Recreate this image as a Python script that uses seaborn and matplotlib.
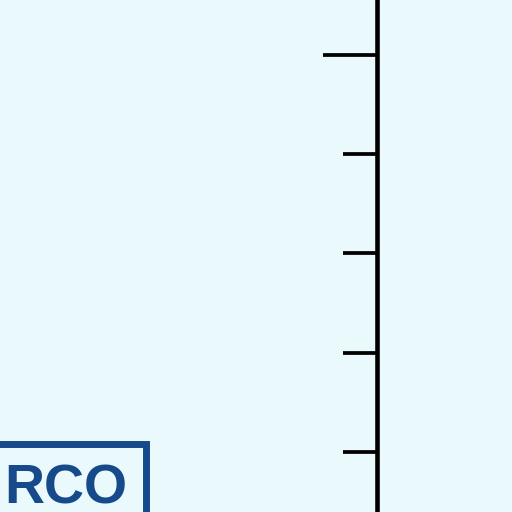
import numpy as np
import pandas as pd
import matplotlib
matplotlib.use("Agg")
import matplotlib.pyplot as plt
from matplotlib.patches import Rectangle
from matplotlib.ticker import FixedLocator, NullFormatter
import seaborn as sns

# axis scale (depth units)
major_ticks = [0]
minor_ticks = [1, 2, 3, 4]
axis_range = [-0.554, 4.605]
box_label = "RCO"

sns.set_theme(style="white")
plt.rcParams['font.family'] = ['Liberation Sans', 'DejaVu Sans']

bg = '#e9f9fc'
navy = '#174a8b'

fig = plt.figure(figsize=(5.12, 5.12), dpi=100, facecolor=bg)
ax = fig.add_axes([0, 0, 377 / 512, 1], facecolor=bg)

# axis line drawn from the range
line = pd.DataFrame({'x': [1.0, 1.0], 'y': axis_range})
sns.lineplot(data=line, x='x', y='y', ax=ax, color='black', lw=3.3,
             estimator=None, sort=False, clip_on=False)

ax.set_xlim(0, 1)
ax.set_ylim(axis_range[1], axis_range[0])
sns.despine(ax=ax, left=True, bottom=True, top=True, right=True)
ax.set_xlabel('')
ax.set_ylabel('')
ax.set_xticks([])

ax.yaxis.tick_right()
ax.yaxis.set_major_locator(FixedLocator(major_ticks))
ax.yaxis.set_minor_locator(FixedLocator(minor_ticks))
ax.yaxis.set_major_formatter(NullFormatter())
ax.yaxis.set_minor_formatter(NullFormatter())
ax.tick_params(axis='y', which='major', direction='in', length=39, width=2.7,
               color='black', right=True, left=False)
ax.tick_params(axis='y', which='minor', direction='in', length=24.5, width=2.7,
               color='black', right=True, left=False)

# label box, partly cut off at the left and bottom
fig.patches.append(Rectangle((-0.05, -0.1), 0.335, 0.2335, transform=fig.transFigure,
                             facecolor='none', edgecolor=navy, lw=5))
fig.text(4 / 512, (512 - 504) / 512, box_label, color=navy, fontsize=40,
         fontweight='bold', ha='left', va='baseline')

fig.savefig('out.png', dpi=100, facecolor=bg)
